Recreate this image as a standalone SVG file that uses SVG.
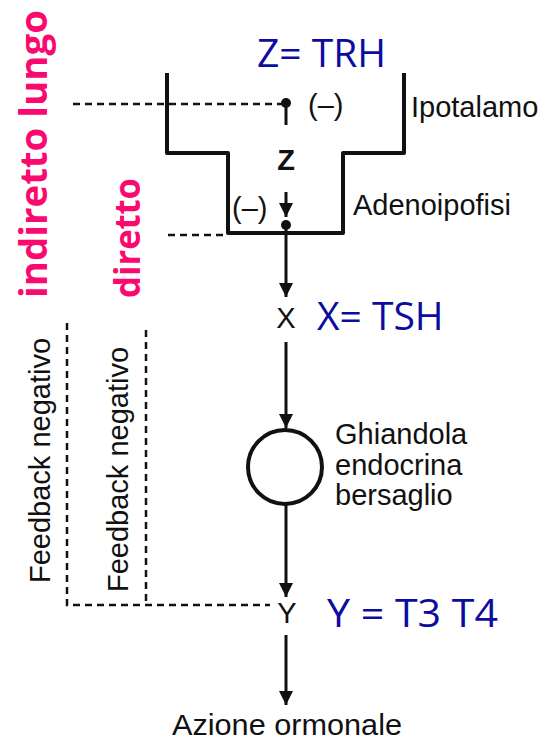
<svg xmlns="http://www.w3.org/2000/svg" width="549" height="740" viewBox="0 0 549 740">
<style>
.lbl{font-family:"Liberation Sans",Arial,sans-serif;font-size:29px;fill:#111}
.blue{font-family:"Open Sans","Noto Sans",sans-serif;font-size:39px;fill:#0c0ca0}
.pink{font-family:"Open Sans","Noto Sans",sans-serif;font-weight:bold;fill:#fa0a6e}
.solid{fill:none;stroke:#111;stroke-width:3}
.wall{fill:none;stroke:#111;stroke-width:4;stroke-linejoin:round}
.dash{fill:none;stroke:#111;stroke-width:2.5;stroke-dasharray:7 5}
.dot{fill:#111}
</style>
<defs>
<marker id="ah" viewBox="0 0 14 14" refX="14" refY="7" markerWidth="14" markerHeight="14" markerUnits="userSpaceOnUse" orient="auto">
<path d="M0,0 L14,7 L0,14 z" fill="#111"/>
</marker>
</defs>
<rect width="549" height="740" fill="#fff"/>

<g id="side-labels">
<text class="pink" font-size="38" textLength="288" lengthAdjust="spacingAndGlyphs" transform="translate(47,298) rotate(-90)">indiretto lungo</text>
<text class="pink" font-size="35" textLength="120" lengthAdjust="spacingAndGlyphs" transform="translate(140,298) rotate(-90)">diretto</text>
</g>

<g id="funnel">
<path class="wall" d="M167,73 V153 H228 V233 H343 V153 H404 V73"/>
<text class="lbl" x="411" y="117">Ipotalamo</text>
<text class="lbl" x="353" y="215">Adenoipofisi</text>
</g>

<g id="titles">
<text class="blue" x="257" y="67">Z= TRH</text>
<text class="blue" x="317" y="330">X= TSH</text>
<text class="blue" x="327" y="627" textLength="171" lengthAdjust="spacingAndGlyphs">Y = T3 T4</text>
</g>

<g id="node-z">
<circle class="dot" cx="286" cy="103" r="5"/>
<text class="lbl" x="308" y="115">(–)</text>
<text class="lbl" x="286" y="170" text-anchor="middle" font-weight="bold" font-size="30">Z</text>
<circle class="dot" cx="286" cy="225" r="5"/>
<text class="lbl" x="232" y="218">(–)</text>
</g>

<g id="node-x">
<text class="lbl" x="286" y="328" text-anchor="middle">X</text>
</g>

<g id="node-gland">
<circle cx="285" cy="467" r="37" fill="none" stroke="#111" stroke-width="4"/>
<text class="lbl" x="335" y="444">Ghiandola</text>
<text class="lbl" x="335" y="475">endocrina</text>
<text class="lbl" x="335" y="505">bersaglio</text>
</g>

<g id="node-y">
<text class="lbl" x="287" y="623" text-anchor="middle">Y</text>
</g>

<g id="node-action">
<text class="lbl" x="172" y="735" textLength="230" lengthAdjust="spacingAndGlyphs">Azione ormonale</text>
</g>

<g id="feedback-labels">
<text class="lbl" transform="translate(50,583) rotate(-90)">Feedback negativo</text>
<text class="lbl" transform="translate(128,592) rotate(-90)">Feedback negativo</text>
</g>

<g id="connectors">
<line class="solid" x1="286" y1="103" x2="286" y2="125"/>
<line class="solid" x1="286" y1="192" x2="286" y2="217" marker-end="url(#ah)"/>
<line class="solid" x1="286" y1="225" x2="286" y2="297" marker-end="url(#ah)"/>
<line class="solid" x1="286" y1="342" x2="286" y2="428" marker-end="url(#ah)"/>
<line class="solid" x1="286" y1="504" x2="286" y2="597" marker-end="url(#ah)"/>
<line class="solid" x1="286" y1="635" x2="286" y2="705" marker-end="url(#ah)"/>
<line class="dash" x1="73" y1="104" x2="282" y2="104"/>
<line class="dash" x1="168" y1="235" x2="228" y2="235"/>
<path class="dash" d="M67,323 V605 H270"/>
<line class="dash" x1="146" y1="330" x2="146" y2="605"/>
</g>
</svg>
